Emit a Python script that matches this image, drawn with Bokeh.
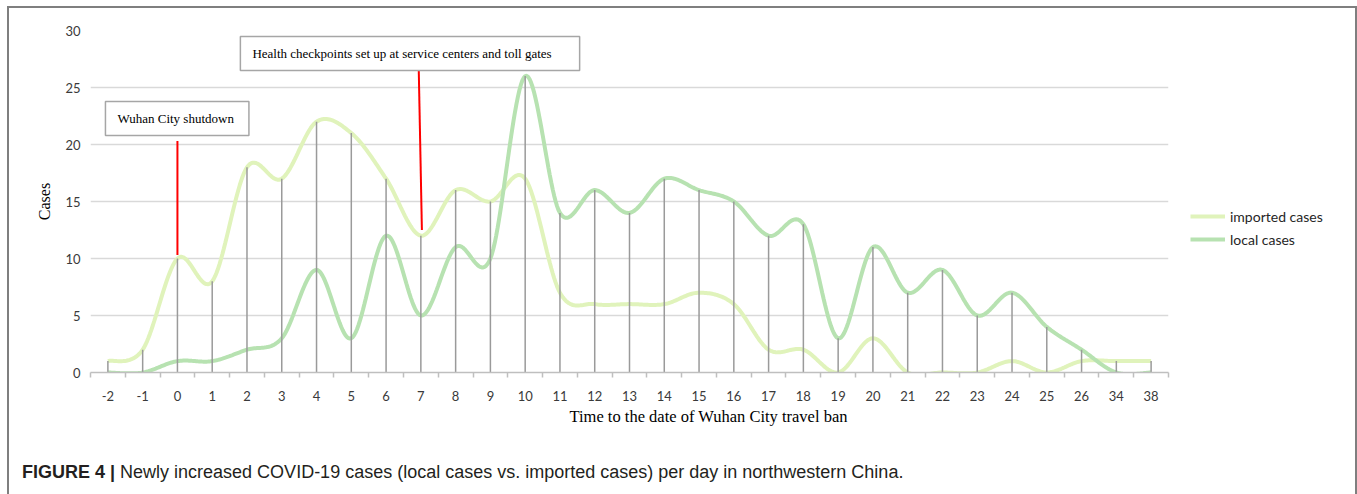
import numpy as np
from bokeh.plotting import figure
from bokeh.layouts import row, column
from bokeh.models import FixedTicker, Label, Legend, LegendItem, Range1d, Title, Div
from bokeh.embed import file_html
from bokeh.resources import INLINE

# ---- data ----
days = ["-2", "-1", "0", "1", "2", "3", "4", "5", "6", "7", "8", "9", "10", "11", "12",
        "13", "14", "15", "16", "17", "18", "19", "20", "21", "22", "23", "24", "25", "26",
        "34", "38"]
imported_cases = [1, 2, 10, 8, 18, 17, 22, 21, 17, 12, 16, 15, 17, 7, 6, 6, 6, 7, 6, 2, 2,
                  0, 3, 0, 0, 0, 1, 0, 1, 1, 1]
local_cases = [0, 0, 1, 1, 2, 3, 9, 3, 12, 5, 11, 10, 26, 14, 16, 14, 17, 16, 15, 12, 13,
               3, 11, 7, 9, 5, 7, 4, 2, 0, 0]
y_ticks = [0, 5, 10, 15, 20, 25, 30]

# annotation anchors (category index, value)
shutdown_line = ((2.0, 10.3), (2.0, 20.3))
checkpoint_line = ((8.94, 26.5), (9.03, 12.5))

IMP_COLOR = "#e0f3bb"
LOC_COLOR = "#b7e2b1"
TICK_FONT = "Lato"
SERIF = "Liberation Serif"


def smooth(xs, ys, n=24):
    P = np.column_stack([xs, ys]).astype(float)
    m = len(P)
    out = []
    for i in range(m - 1):
        p0 = P[max(i - 1, 0)]
        p1 = P[i]
        p2 = P[i + 1]
        p3 = P[min(i + 2, m - 1)]
        c1 = p1 + (p2 - p0) / 6.0
        c2 = p2 - (p3 - p1) / 6.0
        t = np.linspace(0, 1, n, endpoint=(i == m - 2))[:, None]
        seg = (1 - t) ** 3 * p1 + 3 * (1 - t) ** 2 * t * c1 + 3 * (1 - t) * t ** 2 * c2 + t ** 3 * p2
        out.append(seg)
    arr = np.vstack(out)
    return arr[:, 0], arr[:, 1]


idx = list(range(len(days)))
ix, iy = smooth(idx, imported_cases)
lx, ly = smooth(idx, local_cases)

# ---------------- main chart ----------------
p = figure(width=1171, height=422, x_range=Range1d(-0.5, len(days) - 0.5),
           y_range=Range1d(0, 30), output_backend="svg", toolbar_location=None,
           min_border_left=81, min_border_right=12, min_border_top=22,
           min_border_bottom=58)
p.title.visible = False
p.outline_line_color = None
p.background_fill_color = "white"
p.border_fill_color = "white"

xax = p.xaxis[0]
xax.ticker = FixedTicker(ticks=idx, minor_ticks=[i - 0.5 for i in range(len(days) + 1)])
xax.major_label_overrides = {i: d for i, d in enumerate(days)}
xax.major_tick_in = 0
xax.major_tick_out = 0
xax.major_tick_line_color = None
xax.minor_tick_in = 0
xax.minor_tick_out = 5
xax.minor_tick_line_color = "#bfbfbf"
xax.minor_tick_line_width = 1.5
xax.axis_line_color = "#bfbfbf"
xax.axis_line_width = 1.5
xax.major_label_text_font = TICK_FONT
xax.major_label_text_font_size = "13px"
xax.major_label_text_color = "#3a3a3a"
xax.major_label_standoff = 13

yax = p.yaxis[0]
yax.ticker = FixedTicker(ticks=y_ticks)
yax.axis_line_color = None
yax.major_tick_line_color = None
yax.minor_tick_line_color = None
yax.major_tick_out = 0
yax.major_label_standoff = 10
yax.major_label_text_font = TICK_FONT
yax.major_label_text_font_size = "13px"
yax.major_label_text_color = "#3a3a3a"
yax.axis_label = "Cases"
yax.axis_label_text_font = SERIF
yax.axis_label_text_font_style = "normal"
yax.axis_label_text_font_size = "16px"
yax.axis_label_text_color = "#000000"
yax.axis_label_standoff = 9

p.xgrid.visible = False
p.ygrid.ticker = FixedTicker(ticks=y_ticks)
p.ygrid.grid_line_color = "#d9d9d9"
p.ygrid.grid_line_width = 1.5

p.line(ix, iy, line_color=IMP_COLOR, line_width=4)
p.line(lx, ly, line_color=LOC_COLOR, line_width=4)

tops = [max(a, b) for a, b in zip(imported_cases, local_cases)]
p.segment(x0=idx, y0=[0] * len(idx), x1=idx, y1=tops, line_color="#9a9a9a", line_width=1.5)

p.segment(x0=[shutdown_line[0][0], checkpoint_line[0][0]],
          y0=[shutdown_line[0][1], checkpoint_line[0][1]],
          x1=[shutdown_line[1][0], checkpoint_line[1][0]],
          y1=[shutdown_line[1][1], checkpoint_line[1][1]],
          line_color="#ff0000", line_width=2)

for tx, ty, txt, pad in [
    (-0.07, 22.28, "Wuhan City shutdown", dict(left=12, right=15, top=9, bottom=10)),
    (3.81, 27.98, "Health checkpoints set up at service centers and toll gates",
     dict(left=12, right=28, top=9, bottom=10)),
]:
    p.add_layout(Label(x=tx, y=ty, text=txt, text_font=SERIF,
                       text_font_size="13px", text_baseline="middle", text_align="left",
                       text_color="#000000", border_line_color="#a6a6a6",
                       border_line_width=1.5, background_fill_color="white",
                       padding=pad))

p.add_layout(Title(text="Time to the date of Wuhan City travel ban", align="left",
                   offset=479, text_font=SERIF, text_font_style="normal",
                   text_font_size="16.5px", text_color="#000000", standoff=3), "below")

# ---------------- legend panel ----------------
lg = figure(width=175, height=422, x_range=Range1d(100, 101), y_range=Range1d(100, 101),
            x_axis_type=None, y_axis_type=None, output_backend="svg",
            toolbar_location=None, min_border=0)
lg.title.visible = False
lg.outline_line_color = None
lg.background_fill_color = "white"
lg.border_fill_color = "white"
li = lg.line(ix, iy, line_color=IMP_COLOR, line_width=4)
ll = lg.line(lx, ly, line_color=LOC_COLOR, line_width=4)
legend = Legend(items=[LegendItem(label="imported cases", renderers=[li]),
                       LegendItem(label="local cases", renderers=[ll])],
                location=(10, 123), orientation="vertical")
legend.border_line_color = None
legend.background_fill_alpha = 0
legend.padding = 0
legend.margin = 0
legend.spacing = 3
legend.glyph_width = 35
legend.glyph_height = 20
legend.label_height = 20
legend.label_standoff = 5
legend.label_text_font = TICK_FONT
legend.label_text_font_size = "14px"
legend.label_text_color = "#262626"
lg.add_layout(legend, "center")

# ---------------- caption ----------------
caption = Div(
    text=('<div style="padding:30px 0 0 13px; margin:0; white-space:nowrap; '
          'font-family:\'Liberation Sans\', sans-serif; '
          'font-size:18px; line-height:24px; color:#231f20;">'
          '<b>FIGURE 4 |</b> Newly increased COVID-19 cases (local cases vs. imported cases) '
          'per day in northwestern China.</div>'),
    width=1346, height=64, margin=0)

layout = column(row(p, lg, spacing=0), caption, spacing=0, margin=(6, 0, 0, 7),
                styles={"border-left": "2px solid #7f7f7f", "border-top": "2px solid #7f7f7f",
                        "border-right": "2px solid #7f7f7f"})

open("out.html", "w").write(file_html(layout, INLINE))
